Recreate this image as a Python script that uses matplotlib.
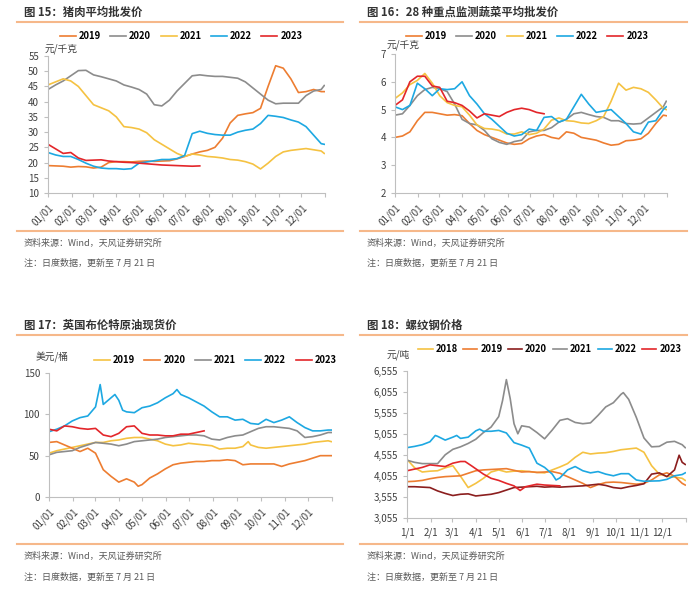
import matplotlib
matplotlib.use('Agg')
import matplotlib.pyplot as plt
from matplotlib.lines import Line2D

plt.rcParams['font.family'] = ['Noto Sans CJK SC', 'DejaVu Sans']
plt.rcParams['axes.unicode_minus'] = False

# ---- data (day of year) ----
grid = list(range(0, 361, 10)) + [364]
grid_2023 = list(range(0, 201, 10))

# fig 15 pork, yuan/kg
pork_2019 = [19, 18.9, 18.8, 18.5, 18.7, 18.6, 18.2, 18.5, 20, 20.3, 20.3, 20.2, 20.4, 20.5, 20.4, 20.5,
             20.6, 21.2, 22, 22.8, 23.5, 24, 25, 28, 33, 35.5, 36, 36.4, 37.8, 45, 51.8, 51, 47.5, 43,
             43.3, 44, 43.3, 43.3]
pork_2020 = [44, 45.5, 46.8, 48.5, 50.2, 50.3, 48.8, 48.2, 47.5, 46.8, 45.5, 44.8, 44, 42.5, 39, 38.6,
             40.5, 43.5, 46, 48.5, 48.8, 48.5, 48.3, 48.3, 48, 47.7, 46.5, 44.5, 42.5, 40.5, 39.3, 39.5,
             39.5, 39.5, 42, 43.5, 44, 45.3]
pork_2021 = [45.5, 46.5, 47.5, 46.8, 45, 42, 39, 38, 37, 35, 31.8, 31.5, 31, 29.8, 27.5, 26, 24.5, 23,
             22, 22.8, 22.5, 22, 21.8, 21.5, 21, 20.8, 20.3, 19.5, 17.9, 19.8, 22, 23.5, 24, 24.3, 24.6,
             24.2, 23.8, 23]
pork_2022 = [23.3, 22.5, 22, 22, 21, 19.8, 18.8, 18.2, 18, 18, 17.8, 18, 19.8, 20.2, 20.6, 21, 21, 21.3,
             22.3, 29.5, 30.3, 29.6, 29.2, 29, 29, 30, 30.6, 31, 32.8, 35.5, 35.2, 34.8, 34, 33.3, 31.8,
             29, 26.2, 26]
pork_2023 = [26, 24.5, 23, 23.3, 21.5, 20.7, 20.8, 20.9, 20.5, 20.3, 20.1, 20, 19.8, 19.6, 19.4, 19.2,
             19.1, 19, 18.9, 18.8, 18.9]

# fig 16 vegetables, yuan/kg
veg_2019 = [4.0, 4.05, 4.2, 4.6, 4.9, 4.9, 4.85, 4.8, 4.82, 4.78, 4.5, 4.25, 4.1, 4.0, 3.9, 3.8, 3.75,
            3.78, 3.95, 4.05, 4.1, 4.0, 3.95, 4.2, 4.15, 4.0, 3.95, 3.9, 3.8, 3.72, 3.75, 3.88, 3.9,
            3.95, 4.15, 4.5, 4.8, 4.78]
veg_2020 = [4.8, 4.85, 5.15, 5.5, 5.72, 5.8, 5.75, 5.65, 5.2, 4.65, 4.5, 4.45, 4.25, 3.95, 3.82, 3.75,
            3.85, 3.9, 4.2, 4.25, 4.25, 4.35, 4.55, 4.65, 4.85, 4.9, 4.82, 4.75, 4.72, 4.6, 4.6, 4.5,
            4.48, 4.5, 4.7, 4.9, 5.1, 5.3]
veg_2021 = [5.4, 5.6, 5.9, 6.05, 6.3, 5.95, 5.5, 5.25, 5.15, 5.1, 4.8, 4.45, 4.32, 4.3, 4.25, 4.12,
            4.12, 4.2, 4.1, 4.15, 4.3, 4.62, 4.7, 4.6, 4.58, 4.52, 4.5, 4.6, 4.75, 5.3, 5.95, 5.7, 5.8,
            5.75, 5.62, 5.35, 5.05, 5.0]
veg_2022 = [5.1, 5.0, 5.15, 5.95, 5.75, 5.5, 5.75, 5.72, 5.75, 6.0, 5.5, 5.2, 4.85, 4.65, 4.4, 4.15,
            4.05, 4.1, 4.3, 4.25, 4.72, 4.75, 4.55, 4.65, 5.1, 5.55, 5.2, 4.9, 4.95, 5.0, 4.75, 4.5, 4.2,
            4.12, 4.55, 4.6, 5.0, 5.1]
veg_2023 = [5.15, 5.35, 6.0, 6.2, 6.2, 5.85, 5.8, 5.3, 5.25, 5.15, 4.95, 4.7, 4.85, 4.8, 4.75, 4.9, 5.0,
            5.05, 5.0, 4.9, 4.85]

# fig 17 brent, usd/bbl
oil_2019_days = list(range(0, 251, 10)) + [257] + list(range(260, 361, 10)) + [364]
oil_2019 = [53, 56, 58, 60, 62, 64, 66, 66, 68, 69, 71, 72, 72, 70, 68, 64, 62, 63, 65, 64, 63, 62, 58,
            59, 59, 61, 67, 63, 60, 59, 60, 61, 62, 63, 64, 66, 67, 68, 67]
oil_2020_days = list(range(0, 111, 10)) + [115] + list(range(120, 361, 10)) + [364]
oil_2020 = [66, 67, 63, 59, 55, 59, 53, 33, 25, 18, 22, 18, 13, 15, 23, 28, 34, 39, 41, 42, 43, 43, 44,
            44, 45, 44, 39, 40, 40, 40, 40, 37, 40, 42, 44, 47, 50, 50, 50]
oil_2021 = [51, 54, 55, 56, 60, 63, 66, 65, 64, 62, 64, 67, 68, 69, 70, 72, 73, 74, 75, 75, 74, 70, 69,
            72, 74, 75, 79, 83, 85, 85, 84, 83, 80, 72, 73, 75, 78, 78]
oil_2022_days = [0, 10, 20, 30, 40, 50, 60, 66, 70, 80, 85, 90, 95, 100, 110, 120, 130, 140, 150, 160,
                 165, 170, 180, 190, 200, 210, 220, 230, 240, 250, 260, 270, 280, 290, 300, 310, 320,
                 330, 340, 350, 360, 364]
oil_2022 = [79, 82, 86, 92, 96, 98, 109, 136, 112, 120, 124, 117, 105, 103, 102, 108, 110, 114, 120,
            125, 130, 124, 120, 115, 110, 103, 97, 97, 93, 94, 89, 88, 94, 90, 93, 97, 90, 84, 80, 80,
            81, 81]
oil_2023 = [82, 80, 86, 85, 83, 82, 83, 75, 73, 77, 85, 86, 77, 75, 75, 74, 74, 76, 76, 78, 80]

# fig 18 rebar, yuan/t
steel_2018 = [4450, 4250, 4150, 4170, 4180, 4250, 4300, 4050, 3780, 3880, 4000, 4150, 4200, 4150, 4170,
              4180, 4160, 4140, 4130, 4200, 4270, 4350, 4500, 4620, 4580, 4600, 4610, 4640, 4680, 4700,
              4720, 4620, 4300, 4100, 4050, 4030, 4000, 3950]
steel_2019 = [3920, 3930, 3950, 3990, 4020, 4040, 4050, 4060, 4120, 4180, 4200, 4210, 4220, 4230, 4190,
              4150, 4160, 4140, 4150, 4160, 4120, 4040, 3960, 3880, 3780, 3850, 3900, 3910, 3900, 3880,
              3860, 3880, 3960, 4080, 4130, 4050, 3880, 3840]
steel_2020_days = list(range(0, 351, 10)) + [356, 360, 364]
steel_2020 = [3800, 3800, 3790, 3780, 3700, 3640, 3590, 3620, 3630, 3580, 3600, 3620, 3660, 3720, 3780,
              3790, 3800, 3810, 3790, 3800, 3790, 3800, 3810, 3820, 3840, 3860, 3830, 3780, 3760, 3800,
              3830, 3870, 4100, 4130, 4040, 4200, 4550, 4380, 4330]
steel_2021_days = [0, 10, 20, 30, 40, 50, 60, 70, 80, 90, 100, 110, 120, 125, 130, 135, 140, 145, 150,
                   160, 170, 180, 190, 200, 210, 220, 230, 240, 250, 260, 270, 280, 283, 290, 300, 310,
                   320, 330, 340, 350, 360, 364]
steel_2021 = [4430, 4380, 4350, 4350, 4350, 4560, 4690, 4750, 4830, 4930, 5090, 5220, 5470, 5850, 6350,
              5900, 5300, 5060, 5250, 5220, 5090, 4940, 5150, 5380, 5420, 5330, 5300, 5320, 5500, 5700,
              5800, 6000, 6040, 5880, 5450, 4960, 4750, 4760, 4860, 4880, 4800, 4730]
steel_2022_days = [0, 10, 20, 30, 37, 40, 50, 60, 65, 70, 80, 90, 95, 100, 110, 120, 130, 140, 150, 160,
                   170, 180, 190, 195, 200, 210, 220, 230, 240, 250, 260, 270, 280, 290, 300, 310, 320,
                   330, 340, 350, 360, 364]
steel_2022 = [4730, 4760, 4800, 4870, 5020, 5000, 4910, 4980, 5020, 4950, 4980, 5130, 5170, 5120, 5120,
              5140, 5080, 4850, 4790, 4720, 4360, 4260, 4100, 3960, 4010, 4200, 4280, 4180, 4130, 4160,
              4100, 4060, 4110, 4110, 3960, 3930, 3935, 3940, 3975, 4060, 4090, 4130]
steel_2023_days = [0, 10, 20, 30, 40, 50, 60, 70, 76, 85, 100, 110, 120, 130, 140, 148, 155, 170, 180,
                   190, 200]
steel_2023 = [4180, 4220, 4260, 4320, 4300, 4280, 4360, 4400, 4400, 4290, 4100, 4000, 3950, 3880, 3820,
              3710, 3800, 3860, 3840, 3830, 3820]

month_starts = [0, 31, 59, 90, 120, 151, 181, 212, 243, 273, 304, 334]
labels_mmdd = ['%02d/01' % m for m in range(1, 13)]
labels_md = ['%d/1' % m for m in range(1, 13)]

ORANGE = '#ED7D31'
GRAY = '#8C8C8C'
YELLOW = '#F5C242'
BLUE = '#1DA8E2'
RED = '#E3262A'
DARKRED = '#8B1E1E'
SEP = '#F6B88A'
TXT = '#404040'

fig = plt.figure(figsize=(7, 6), dpi=100)


def ftext(x, y, s, **kw):
    fig.text(x / 700, 1 - y / 600, s, va='center', ha='left', **kw)


def hline(x1, x2, y):
    fig.add_artist(Line2D([x1 / 700, x2 / 700], [1 - y / 600, 1 - y / 600], color=SEP, lw=1.5))


def make_axes(l, t, r, b):
    ax = fig.add_axes([l / 700, 1 - b / 600, (r - l) / 700, (b - t) / 600])
    for s in ['top', 'right']:
        ax.spines[s].set_visible(False)
    for s in ['left', 'bottom']:
        ax.spines[s].set_color('#BFBFBF')
        ax.spines[s].set_linewidth(0.8)
    ax.tick_params(colors='#BFBFBF', labelcolor=TXT, labelsize=7, length=3, width=0.8)
    ax.set_xlim(0, 365)
    ax.set_xticks(month_starts + [365])
    return ax


def legend(ax, x, y, handle, spacing):
    ax.legend(loc='center', bbox_to_anchor=(x, y), ncol=6, frameon=False, handlelength=handle,
              handletextpad=0.3, columnspacing=spacing, prop={'weight': 'bold', 'size': 6.8})


# ---------- fig 15 ----------
ax1 = make_axes(48, 56, 325, 193)
ax1.plot(grid, pork_2019, color=ORANGE, lw=1.2, label='2019')
ax1.plot(grid, pork_2020, color=GRAY, lw=1.2, label='2020')
ax1.plot(grid, pork_2021, color=YELLOW, lw=1.2, label='2021')
ax1.plot(grid, pork_2022, color=BLUE, lw=1.2, label='2022')
ax1.plot(grid_2023, pork_2023, color=RED, lw=1.2, label='2023')
ax1.set_ylim(10, 55)
ax1.set_yticks(range(10, 56, 5))
ax1.set_xticklabels(labels_mmdd + [''], rotation=45, ha='right', rotation_mode='anchor')
legend(ax1, 0.48, 1.146, 1.7, 1.0)

# ---------- fig 16 ----------
ax2 = make_axes(395, 54, 667, 193)
ax2.plot(grid, veg_2019, color=ORANGE, lw=1.2, label='2019')
ax2.plot(grid, veg_2020, color=GRAY, lw=1.2, label='2020')
ax2.plot(grid, veg_2021, color=YELLOW, lw=1.2, label='2021')
ax2.plot(grid, veg_2022, color=BLUE, lw=1.2, label='2022')
ax2.plot(grid_2023, veg_2023, color=RED, lw=1.2, label='2023')
ax2.set_ylim(2, 7)
ax2.set_yticks(range(2, 8))
ax2.set_xticklabels(labels_mmdd + [''], rotation=45, ha='right', rotation_mode='anchor')
legend(ax2, 0.485, 1.13, 1.7, 1.0)

# ---------- fig 17 ----------
ax3 = make_axes(49, 373, 332, 497)
ax3.plot(oil_2019_days, oil_2019, color=YELLOW, lw=1.2, label='2019')
ax3.plot(oil_2020_days, oil_2020, color=ORANGE, lw=1.2, label='2020')
ax3.plot(grid, oil_2021, color=GRAY, lw=1.2, label='2021')
ax3.plot(oil_2022_days, oil_2022, color=BLUE, lw=1.2, label='2022')
ax3.plot(grid_2023, oil_2023, color=RED, lw=1.2, label='2023')
ax3.set_ylim(0, 150)
ax3.set_yticks([0, 50, 100, 150])
ax3.set_xticklabels(labels_mmdd + [''], rotation=45, ha='right', rotation_mode='anchor')
legend(ax3, 0.587, 1.105, 1.7, 1.0)

# ---------- fig 18 ----------
ax4 = make_axes(407, 371, 686, 518)
ax4.plot(grid, steel_2018, color=YELLOW, lw=1.2, label='2018')
ax4.plot(grid, steel_2019, color=ORANGE, lw=1.2, label='2019')
ax4.plot(steel_2020_days, steel_2020, color=DARKRED, lw=1.2, label='2020')
ax4.plot(steel_2021_days, steel_2021, color=GRAY, lw=1.2, label='2021')
ax4.plot(steel_2022_days, steel_2022, color=BLUE, lw=1.2, label='2022')
ax4.plot(steel_2023_days, steel_2023, color=RED, lw=1.2, label='2023')
ax4.set_ylim(3055, 6555)
steel_ticks = list(range(3055, 6556, 500))
ax4.set_yticks(steel_ticks)
ax4.set_yticklabels(['{:,}'.format(v) for v in steel_ticks])
ax4.set_xticklabels(labels_md + [''])
legend(ax4, 0.512, 1.15, 1.5, 0.6)

# ---------- titles, units, notes ----------
titles = ['图 15：猪肉平均批发价', '图 16：28 种重点监测蔬菜平均批发价',
          '图 17：英国布伦特原油现货价', '图 18：螺纹钢价格']
title_pos = [(24, 12), (367, 12), (24, 325), (367, 325)]
for (x, y), t in zip(title_pos, titles):
    ftext(x, y, t, fontsize=8.2, fontweight='bold', color='#333333')

hline(17, 343, 22)
hline(360, 687, 22)
hline(17, 343, 231)
hline(360, 687, 231)
hline(17, 343, 335)
hline(360, 687, 335)
hline(17, 343, 544)
hline(360, 687, 544)

ftext(45, 49, '元/千克', fontsize=7, color=TXT)
ftext(387, 45, '元/千克', fontsize=7, color=TXT)
ftext(36, 357, '美元/桶', fontsize=7, color=TXT)
ftext(387, 355, '元/吨', fontsize=7, color=TXT)

source = '资料来源：Wind，天风证券研究所'
note = '注：日度数据，更新至 7 月 21 日'
for x, y1, y2 in [(24, 243, 263), (367, 243, 263), (24, 556, 577), (367, 556, 577)]:
    ftext(x, y1, source, fontsize=6.5, color='#595959')
    ftext(x, y2, note, fontsize=6.5, color='#595959')

fig.savefig('out.png', dpi=100)
